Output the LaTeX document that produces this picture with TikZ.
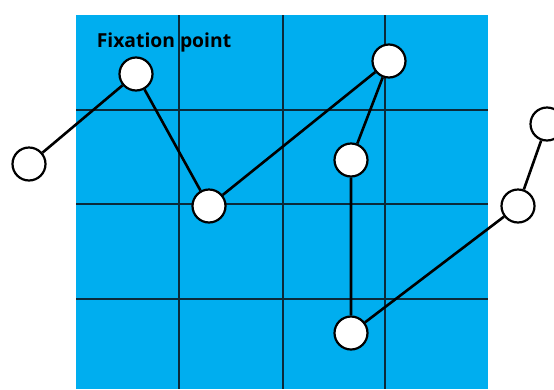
\documentclass[tikz,border=0pt]{standalone}
\usepackage{fontspec}
\setmainfont{Open Sans}
\definecolor{gridblue}{HTML}{00AEEF}
\definecolor{gridline}{HTML}{0B2A3A}
\begin{document}
\begin{tikzpicture}[x=1pt,y=-1pt,
  fix/.style={circle,draw=black,fill=white,line width=2.2pt,minimum size=33pt,inner sep=0pt},
  conn/.style={line width=2.6pt,draw=black},
  gl/.style={line width=1.5pt,draw=gridline}]
\useasboundingbox (0,0) rectangle (554,389);
\fill[gridblue] (76,15) rectangle (488,389);
\foreach \x in {179,283,385} \draw[gl] (\x,15) -- (\x,389);
\foreach \y in {110,204,299} \draw[gl] (76,\y) -- (488,\y);
\node[font=\bfseries\fontsize{19.3}{21}\selectfont,anchor=center] (lbl) at (164,42) {Fixation point};
\node[fix] (p1) at (29,164) {};
\node[fix] (p2) at (136,74) {};
\node[fix] (p3) at (209,206) {};
\node[fix] (p4) at (389,61) {};
\node[fix] (p5) at (351,160) {};
\node[fix] (p6) at (351,333) {};
\node[fix] (p7) at (518,206) {};
\node[fix] (p8) at (547,124) {};
\draw[conn] (p1) -- (p2) -- (p3) -- (p4) -- (p5) -- (p6) -- (p7) -- (p8);
\end{tikzpicture}
\end{document}
